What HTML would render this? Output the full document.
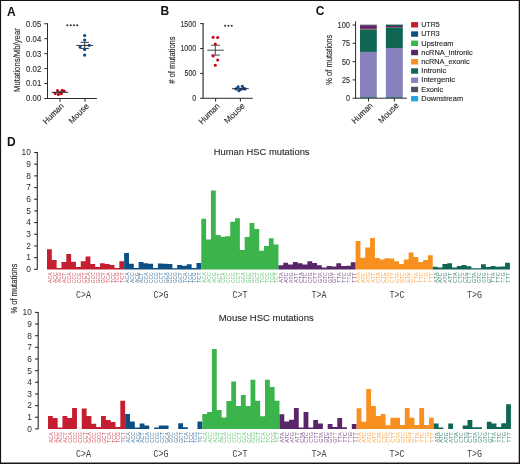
<!DOCTYPE html>
<html><head><meta charset="utf-8"><title>Figure</title><style>
html,body{margin:0;padding:0;background:#fff;}
svg{display:block;will-change:transform;}
text{font-family:"Liberation Sans",sans-serif;}
.pl{font-weight:bold;font-size:12px;fill:#111;}
.tk{font-size:8.8px;fill:#333;stroke:#333;stroke-width:0.15px;}
.tl{font-size:8.4px;fill:#2e2e2e;}
.xl{font-size:8.4px;fill:#2e2e2e;stroke:#2e2e2e;stroke-width:0.15px;}
.yl{font-size:9.8px;fill:#2e2e2e;stroke:#2e2e2e;stroke-width:0.15px;}
.st{font-size:9px;fill:#333;font-weight:bold;}
.lg{font-size:7.7px;fill:#2a2a2a;stroke:#2a2a2a;stroke-width:0.15px;}
.tt{font-size:9.9px;fill:#2a2a2a;stroke:#2a2a2a;stroke-width:0.12px;}
.gl{font-family:"Liberation Mono",monospace;font-size:10.6px;fill:#444;}
.ctx text{opacity:0.8;}
</style></head>
<body><svg width="520" height="464" viewBox="0 0 520 464">
<rect x="0" y="0" width="520" height="464" fill="#fff"/>
<text x="6.9" y="15.5" text-anchor="start" class="pl" >A</text>
<line x1="47.5" y1="23.2" x2="47.5" y2="99" stroke="#2b2b2b" stroke-width="1"/>
<line x1="44.3" y1="98.5" x2="47.5" y2="98.5" stroke="#2b2b2b" stroke-width="1"/>
<text x="41.2" y="101.4" text-anchor="end" class="tk" textLength="15.1" lengthAdjust="spacingAndGlyphs">0.00</text>
<line x1="44.3" y1="83.55" x2="47.5" y2="83.55" stroke="#2b2b2b" stroke-width="1"/>
<text x="41.2" y="86.45" text-anchor="end" class="tk" textLength="15.1" lengthAdjust="spacingAndGlyphs">0.01</text>
<line x1="44.3" y1="68.6" x2="47.5" y2="68.6" stroke="#2b2b2b" stroke-width="1"/>
<text x="41.2" y="71.5" text-anchor="end" class="tk" textLength="15.1" lengthAdjust="spacingAndGlyphs">0.02</text>
<line x1="44.3" y1="53.65" x2="47.5" y2="53.65" stroke="#2b2b2b" stroke-width="1"/>
<text x="41.2" y="56.55" text-anchor="end" class="tk" textLength="15.1" lengthAdjust="spacingAndGlyphs">0.03</text>
<line x1="44.3" y1="38.7" x2="47.5" y2="38.7" stroke="#2b2b2b" stroke-width="1"/>
<text x="41.2" y="41.6" text-anchor="end" class="tk" textLength="15.1" lengthAdjust="spacingAndGlyphs">0.04</text>
<line x1="44.3" y1="23.75" x2="47.5" y2="23.75" stroke="#2b2b2b" stroke-width="1"/>
<text x="41.2" y="26.65" text-anchor="end" class="tk" textLength="15.1" lengthAdjust="spacingAndGlyphs">0.05</text>
<line x1="47" y1="98.5" x2="96.9" y2="98.5" stroke="#2b2b2b" stroke-width="1"/>
<line x1="60" y1="98.5" x2="60" y2="101.8" stroke="#2b2b2b" stroke-width="1"/>
<line x1="85" y1="98.5" x2="85" y2="101.8" stroke="#2b2b2b" stroke-width="1"/>
<text x="64.4" y="106.6" text-anchor="end" class="xl" transform="rotate(-45 64.4 106.6)" textLength="25.8" lengthAdjust="spacingAndGlyphs">Human</text>
<text x="89.6" y="106.6" text-anchor="end" class="xl" transform="rotate(-45 89.6 106.6)" textLength="25" lengthAdjust="spacingAndGlyphs">Mouse</text>
<text x="20.3" y="60.1" text-anchor="middle" class="yl" transform="rotate(-90 20.3 60.1)" textLength="63.8" lengthAdjust="spacingAndGlyphs">Mutations/Mb/year</text>
<circle cx="67.3" cy="25.3" r="1.05" fill="#333"/>
<circle cx="70.7" cy="25.3" r="1.05" fill="#333"/>
<circle cx="73.9" cy="25.3" r="1.05" fill="#333"/>
<circle cx="77.2" cy="25.3" r="1.05" fill="#333"/>
<circle cx="57.5" cy="90.5" r="1.5" fill="#c60014"/>
<circle cx="55.2" cy="93.5" r="1.5" fill="#c60014"/>
<circle cx="58.4" cy="94.6" r="1.5" fill="#c60014"/>
<circle cx="61.4" cy="93.7" r="1.5" fill="#c60014"/>
<circle cx="62.3" cy="90.2" r="1.5" fill="#c60014"/>
<circle cx="64.2" cy="90.9" r="1.5" fill="#c60014"/>
<line x1="51.7" y1="92.3" x2="68.1" y2="92.3" stroke="#222" stroke-width="1"/>
<line x1="57.8" y1="91.6" x2="61.8" y2="91.6" stroke="#222" stroke-width="0.8"/>
<line x1="57.8" y1="93" x2="61.8" y2="93" stroke="#222" stroke-width="0.8"/>
<line x1="76.3" y1="45.4" x2="93.1" y2="45.4" stroke="#333" stroke-width="1"/>
<line x1="80.5" y1="42.3" x2="88.9" y2="42.3" stroke="#333" stroke-width="1"/>
<line x1="80.5" y1="48.4" x2="88.9" y2="48.4" stroke="#333" stroke-width="1"/>
<line x1="84.67" y1="42.3" x2="84.67" y2="48.4" stroke="#333" stroke-width="1"/>
<circle cx="84.67" cy="35.5" r="1.6" fill="#0a4a8a"/>
<circle cx="84.67" cy="40" r="1.6" fill="#0a4a8a"/>
<circle cx="89.2" cy="45.3" r="1.6" fill="#0a4a8a"/>
<circle cx="80.1" cy="47.1" r="1.6" fill="#0a4a8a"/>
<circle cx="84.67" cy="49.4" r="1.6" fill="#0a4a8a"/>
<circle cx="84.67" cy="55.1" r="1.6" fill="#0a4a8a"/>
<text x="160.4" y="15" text-anchor="start" class="pl" >B</text>
<line x1="203.1" y1="23.1" x2="203.1" y2="98.3" stroke="#5e5a5c" stroke-width="1.5"/>
<line x1="200.1" y1="98.3" x2="203.1" y2="98.3" stroke="#2b2b2b" stroke-width="1"/>
<text x="196.3" y="101.2" text-anchor="end" class="tk" textLength="4" lengthAdjust="spacingAndGlyphs">0</text>
<line x1="200.1" y1="73.4" x2="203.1" y2="73.4" stroke="#2b2b2b" stroke-width="1"/>
<text x="196.3" y="76.3" text-anchor="end" class="tk" textLength="11.8" lengthAdjust="spacingAndGlyphs">500</text>
<line x1="200.1" y1="48.5" x2="203.1" y2="48.5" stroke="#2b2b2b" stroke-width="1"/>
<text x="196.3" y="51.4" text-anchor="end" class="tk" textLength="15.9" lengthAdjust="spacingAndGlyphs">1000</text>
<line x1="200.1" y1="23.6" x2="203.1" y2="23.6" stroke="#2b2b2b" stroke-width="1"/>
<text x="196.3" y="26.5" text-anchor="end" class="tk" textLength="15.9" lengthAdjust="spacingAndGlyphs">1500</text>
<line x1="202.6" y1="98.3" x2="252.8" y2="98.3" stroke="#2b2b2b" stroke-width="1"/>
<line x1="215.6" y1="98.3" x2="215.6" y2="101.6" stroke="#2b2b2b" stroke-width="1"/>
<line x1="240.4" y1="98.3" x2="240.4" y2="101.6" stroke="#2b2b2b" stroke-width="1"/>
<text x="220.2" y="106.6" text-anchor="end" class="xl" transform="rotate(-45 220.2 106.6)" textLength="25.8" lengthAdjust="spacingAndGlyphs">Human</text>
<text x="245.3" y="106.4" text-anchor="end" class="xl" transform="rotate(-45 245.3 106.4)" textLength="25" lengthAdjust="spacingAndGlyphs">Mouse</text>
<text x="175" y="60.1" text-anchor="middle" class="yl" transform="rotate(-90 175 60.1)" textLength="47.4" lengthAdjust="spacingAndGlyphs"># of mutations</text>
<circle cx="225.1" cy="25.8" r="1.05" fill="#333"/>
<circle cx="228.4" cy="25.8" r="1.05" fill="#333"/>
<circle cx="231.7" cy="25.8" r="1.05" fill="#333"/>
<line x1="207.3" y1="50.2" x2="223.8" y2="50.2" stroke="#444" stroke-width="1"/>
<line x1="211.2" y1="45.2" x2="219.9" y2="45.2" stroke="#444" stroke-width="1"/>
<line x1="211.2" y1="55.1" x2="219.9" y2="55.1" stroke="#444" stroke-width="1"/>
<line x1="215.3" y1="45.2" x2="215.3" y2="55.1" stroke="#444" stroke-width="1"/>
<circle cx="213.1" cy="37.3" r="1.5" fill="#c60014"/>
<circle cx="217.7" cy="37.6" r="1.5" fill="#c60014"/>
<circle cx="215.3" cy="44.1" r="1.5" fill="#c60014"/>
<circle cx="213.1" cy="55.9" r="1.5" fill="#c60014"/>
<circle cx="217.7" cy="60.1" r="1.5" fill="#c60014"/>
<circle cx="215.3" cy="65.3" r="1.5" fill="#c60014"/>
<circle cx="236" cy="88.9" r="1.6" fill="#0a4a8a"/>
<circle cx="238.1" cy="86.9" r="1.6" fill="#0a4a8a"/>
<circle cx="238.9" cy="90.7" r="1.6" fill="#0a4a8a"/>
<circle cx="241" cy="89.3" r="1.6" fill="#0a4a8a"/>
<circle cx="242.4" cy="86.3" r="1.6" fill="#0a4a8a"/>
<circle cx="243.8" cy="88.7" r="1.6" fill="#0a4a8a"/>
<circle cx="245" cy="88.9" r="1.6" fill="#0a4a8a"/>
<line x1="232" y1="88.7" x2="248.8" y2="88.7" stroke="#222" stroke-width="0.9"/>
<text x="315.7" y="14.5" text-anchor="start" class="pl" >C</text>
<line x1="355.6" y1="21.3" x2="355.6" y2="98.7" stroke="#2b2b2b" stroke-width="1"/>
<line x1="352.6" y1="98.2" x2="355.6" y2="98.2" stroke="#2b2b2b" stroke-width="1"/>
<text x="350" y="101.1" text-anchor="end" class="tk" textLength="4" lengthAdjust="spacingAndGlyphs">0</text>
<line x1="352.6" y1="79.9" x2="355.6" y2="79.9" stroke="#2b2b2b" stroke-width="1"/>
<text x="350" y="82.8" text-anchor="end" class="tk" textLength="8" lengthAdjust="spacingAndGlyphs">25</text>
<line x1="352.6" y1="61.6" x2="355.6" y2="61.6" stroke="#2b2b2b" stroke-width="1"/>
<text x="350" y="64.5" text-anchor="end" class="tk" textLength="8" lengthAdjust="spacingAndGlyphs">50</text>
<line x1="352.6" y1="43.3" x2="355.6" y2="43.3" stroke="#2b2b2b" stroke-width="1"/>
<text x="350" y="46.2" text-anchor="end" class="tk" textLength="8" lengthAdjust="spacingAndGlyphs">75</text>
<line x1="352.6" y1="25" x2="355.6" y2="25" stroke="#2b2b2b" stroke-width="1"/>
<text x="350" y="27.9" text-anchor="end" class="tk" textLength="12.4" lengthAdjust="spacingAndGlyphs">100</text>
<line x1="355.1" y1="98.2" x2="406.8" y2="98.2" stroke="#2b2b2b" stroke-width="1"/>
<line x1="368.5" y1="98.2" x2="368.5" y2="101.5" stroke="#2b2b2b" stroke-width="1"/>
<line x1="394.4" y1="98.2" x2="394.4" y2="101.5" stroke="#2b2b2b" stroke-width="1"/>
<text x="373.2" y="106" text-anchor="end" class="xl" transform="rotate(-45 373.2 106)" textLength="25.8" lengthAdjust="spacingAndGlyphs">Human</text>
<text x="399.2" y="106" text-anchor="end" class="xl" transform="rotate(-45 399.2 106)" textLength="25" lengthAdjust="spacingAndGlyphs">Mouse</text>
<text x="331.9" y="59.7" text-anchor="middle" class="yl" transform="rotate(-90 331.9 59.7)" textLength="50" lengthAdjust="spacingAndGlyphs">% of mutations</text>
<rect x="360" y="24.7" width="16.8" height="1.1" fill="#3a4058"/>
<rect x="360" y="25.75" width="16.8" height="3.1" fill="#5e2270"/>
<rect x="360" y="28.8" width="16.8" height="0.95" fill="#8a5a3a"/>
<rect x="360" y="29.7" width="16.8" height="22.25" fill="#106654"/>
<rect x="360" y="51.9" width="16.8" height="45.05" fill="#8882bc"/>
<rect x="360" y="96.9" width="16.8" height="0.9" fill="#1d5f6f"/>
<rect x="385.9" y="24.6" width="16.9" height="1.35" fill="#0d5a47"/>
<rect x="385.9" y="25.9" width="16.9" height="1.25" fill="#5e2270"/>
<rect x="385.9" y="27.1" width="16.9" height="0.75" fill="#6a4a50"/>
<rect x="385.9" y="27.8" width="16.9" height="20.25" fill="#106654"/>
<rect x="385.9" y="48" width="16.9" height="48.95" fill="#8882bc"/>
<rect x="385.9" y="96.9" width="16.9" height="0.9" fill="#1d5f6f"/>
<rect x="411.1" y="22.1" width="7" height="5.4" fill="#c41e30"/>
<text x="421.3" y="27.2" text-anchor="start" class="lg" textLength="18.3" lengthAdjust="spacingAndGlyphs">UTR5</text>
<rect x="411.1" y="31.34" width="7" height="5.4" fill="#0c4f84"/>
<text x="421.3" y="36.41" text-anchor="start" class="lg" textLength="18.3" lengthAdjust="spacingAndGlyphs">UTR3</text>
<rect x="411.1" y="40.58" width="7" height="5.4" fill="#3bb44b"/>
<text x="421.3" y="45.62" text-anchor="start" class="lg" textLength="32.2" lengthAdjust="spacingAndGlyphs">Upstream</text>
<rect x="411.1" y="49.82" width="7" height="5.4" fill="#5a266a"/>
<text x="421.3" y="54.83" text-anchor="start" class="lg" textLength="51.4" lengthAdjust="spacingAndGlyphs">ncRNA_intronic</text>
<rect x="411.1" y="59.06" width="7" height="5.4" fill="#f7901e"/>
<text x="421.3" y="64.04" text-anchor="start" class="lg" textLength="48.3" lengthAdjust="spacingAndGlyphs">ncRNA_exonic</text>
<rect x="411.1" y="68.3" width="7" height="5.4" fill="#106654"/>
<text x="421.3" y="73.25" text-anchor="start" class="lg" textLength="24.9" lengthAdjust="spacingAndGlyphs">Intronic</text>
<rect x="411.1" y="77.54" width="7" height="5.4" fill="#8882bc"/>
<text x="421.3" y="82.46" text-anchor="start" class="lg" textLength="33.7" lengthAdjust="spacingAndGlyphs">Intergenic</text>
<rect x="411.1" y="86.78" width="7" height="5.4" fill="#465466"/>
<text x="421.3" y="91.67" text-anchor="start" class="lg" textLength="21.8" lengthAdjust="spacingAndGlyphs">Exonic</text>
<rect x="411.1" y="96.02" width="7" height="5.4" fill="#23a6df"/>
<text x="421.3" y="100.88" text-anchor="start" class="lg" textLength="41.8" lengthAdjust="spacingAndGlyphs">Downstream</text>
<text x="7" y="145.6" text-anchor="start" class="pl" >D</text>
<text x="17.5" y="288.6" text-anchor="middle" class="yl" transform="rotate(-90 17.5 288.6)" textLength="49.8" lengthAdjust="spacingAndGlyphs">% of mutations</text>
<line x1="37.3" y1="152" x2="37.3" y2="269.4" stroke="#2b2b2b" stroke-width="1.1"/>
<line x1="34.2" y1="269.3" x2="37.3" y2="269.3" stroke="#2b2b2b" stroke-width="1.1"/>
<text x="30.9" y="272.15" text-anchor="end" class="tl">0</text>
<line x1="34.2" y1="257.62" x2="37.3" y2="257.62" stroke="#2b2b2b" stroke-width="1.1"/>
<text x="30.9" y="260.47" text-anchor="end" class="tl">1</text>
<line x1="34.2" y1="245.94" x2="37.3" y2="245.94" stroke="#2b2b2b" stroke-width="1.1"/>
<text x="30.9" y="248.79" text-anchor="end" class="tl">2</text>
<line x1="34.2" y1="234.26" x2="37.3" y2="234.26" stroke="#2b2b2b" stroke-width="1.1"/>
<text x="30.9" y="237.11" text-anchor="end" class="tl">3</text>
<line x1="34.2" y1="222.58" x2="37.3" y2="222.58" stroke="#2b2b2b" stroke-width="1.1"/>
<text x="30.9" y="225.43" text-anchor="end" class="tl">4</text>
<line x1="34.2" y1="210.9" x2="37.3" y2="210.9" stroke="#2b2b2b" stroke-width="1.1"/>
<text x="30.9" y="213.75" text-anchor="end" class="tl">5</text>
<line x1="34.2" y1="199.22" x2="37.3" y2="199.22" stroke="#2b2b2b" stroke-width="1.1"/>
<text x="30.9" y="202.07" text-anchor="end" class="tl">6</text>
<line x1="34.2" y1="187.54" x2="37.3" y2="187.54" stroke="#2b2b2b" stroke-width="1.1"/>
<text x="30.9" y="190.39" text-anchor="end" class="tl">7</text>
<line x1="34.2" y1="175.86" x2="37.3" y2="175.86" stroke="#2b2b2b" stroke-width="1.1"/>
<text x="30.9" y="178.71" text-anchor="end" class="tl">8</text>
<line x1="34.2" y1="164.18" x2="37.3" y2="164.18" stroke="#2b2b2b" stroke-width="1.1"/>
<text x="30.9" y="167.03" text-anchor="end" class="tl">9</text>
<line x1="34.2" y1="152.5" x2="37.3" y2="152.5" stroke="#2b2b2b" stroke-width="1.1"/>
<text x="30.9" y="155.35" text-anchor="end" class="tl">10</text>
<path d="M47 269.4 L47 249.3 L51.82 249.3 L51.82 260 L56.64 260 L56.64 267.9 L61.47 267.9 L61.47 262 L66.29 262 L66.29 254.1 L71.11 254.1 L71.11 261.8 L75.93 261.8 L75.93 267.1 L80.75 267.1 L80.75 261.2 L85.58 261.2 L85.58 256.4 L90.4 256.4 L90.4 264 L95.22 264 L95.22 266.9 L100.04 266.9 L100.04 263.3 L104.86 263.3 L104.86 264.1 L109.69 264.1 L109.69 265 L114.51 265 L114.51 267.9 L119.33 267.9 L119.33 261.2 L124.15 261.2 L124.15 269.4 Z" fill="#c41e30"/>
<path d="M124.15 269.4 L124.15 253.1 L128.97 253.1 L128.97 263.7 L133.8 263.7 L133.8 268.1 L138.62 268.1 L138.62 262.05 L143.44 262.05 L143.44 263.3 L148.26 263.3 L148.26 263.8 L153.08 263.8 L153.08 267.9 L157.91 267.9 L157.91 263.6 L162.73 263.6 L162.73 263.7 L167.55 263.7 L167.55 263.9 L172.37 263.9 L172.37 268.3 L177.19 268.3 L177.19 265 L182.02 265 L182.02 265.7 L186.84 265.7 L186.84 264.2 L191.66 264.2 L191.66 267.9 L196.48 267.9 L196.48 263 L201.3 263 L201.3 269.4 Z" fill="#0c4f84"/>
<path d="M201.3 269.4 L201.3 218.85 L206.13 218.85 L206.13 239.5 L210.95 239.5 L210.95 190.4 L215.77 190.4 L215.77 235 L220.59 235 L220.59 236.7 L225.41 236.7 L225.41 236.3 L230.24 236.3 L230.24 221.8 L235.06 221.8 L235.06 218.3 L239.88 218.3 L239.88 249.9 L244.7 249.9 L244.7 237.1 L249.52 237.1 L249.52 222.9 L254.35 222.9 L254.35 228.9 L259.17 228.9 L259.17 250.8 L263.99 250.8 L263.99 246.1 L268.81 246.1 L268.81 238.3 L273.63 238.3 L273.63 244.4 L278.46 244.4 L278.46 269.4 Z" fill="#3bb44b"/>
<path d="M278.46 269.4 L278.46 265.2 L283.28 265.2 L283.28 262.7 L288.1 262.7 L288.1 264.4 L292.92 264.4 L292.92 262.1 L297.74 262.1 L297.74 263.2 L302.57 263.2 L302.57 264.4 L307.39 264.4 L307.39 261.3 L312.21 261.3 L312.21 263.1 L317.03 263.1 L317.03 265.2 L321.85 265.2 L321.85 267.5 L326.68 267.5 L326.68 266.1 L331.5 266.1 L331.5 266.5 L336.32 266.5 L336.32 263.3 L341.14 263.3 L341.14 265.9 L345.96 265.9 L345.96 265.7 L350.79 265.7 L350.79 262.3 L355.61 262.3 L355.61 269.4 Z" fill="#5a266a"/>
<path d="M355.61 269.4 L355.61 241.05 L360.43 241.05 L360.43 257.7 L365.25 257.7 L365.25 247.5 L370.07 247.5 L370.07 237.9 L374.9 237.9 L374.9 258 L379.72 258 L379.72 259.4 L384.54 259.4 L384.54 258.3 L389.36 258.3 L389.36 258.4 L394.18 258.4 L394.18 261.15 L399.01 261.15 L399.01 264.1 L403.83 264.1 L403.83 259.6 L408.65 259.6 L408.65 252.5 L413.47 252.5 L413.47 256.9 L418.29 256.9 L418.29 262 L423.12 262 L423.12 260 L427.94 260 L427.94 255.2 L432.76 255.2 L432.76 269.4 Z" fill="#f7901e"/>
<path d="M432.76 269.4 L432.76 266.8 L437.58 266.8 L437.58 267.5 L442.4 267.5 L442.4 264.1 L447.23 264.1 L447.23 263.3 L452.05 263.3 L452.05 267.6 L456.87 267.6 L456.87 265.9 L461.69 265.9 L461.69 265.1 L466.51 265.1 L466.51 266.2 L471.34 266.2 L471.34 268.2 L476.16 268.2 L476.16 268.2 L480.98 268.2 L480.98 264.3 L485.8 264.3 L485.8 267 L490.62 267 L490.62 265.9 L495.45 265.9 L495.45 266.7 L500.27 266.7 L500.27 266.4 L505.09 266.4 L505.09 262.8 L509.91 262.8 L509.91 269.4 Z" fill="#106654"/>
<g font-size="5.3" class="ctx"><text x="51.83" y="272.4" transform="rotate(-90 51.83 272.4)" text-anchor="end" textLength="10.6" lengthAdjust="spacingAndGlyphs" fill="#c41e30">ACA</text>
<text x="56.66" y="272.4" transform="rotate(-90 56.66 272.4)" text-anchor="end" textLength="10.6" lengthAdjust="spacingAndGlyphs" fill="#c41e30">ACC</text>
<text x="61.48" y="272.4" transform="rotate(-90 61.48 272.4)" text-anchor="end" textLength="10.6" lengthAdjust="spacingAndGlyphs" fill="#c41e30">ACG</text>
<text x="66.3" y="272.4" transform="rotate(-90 66.3 272.4)" text-anchor="end" textLength="10.6" lengthAdjust="spacingAndGlyphs" fill="#c41e30">ACT</text>
<text x="71.12" y="272.4" transform="rotate(-90 71.12 272.4)" text-anchor="end" textLength="10.6" lengthAdjust="spacingAndGlyphs" fill="#c41e30">CCA</text>
<text x="75.94" y="272.4" transform="rotate(-90 75.94 272.4)" text-anchor="end" textLength="10.6" lengthAdjust="spacingAndGlyphs" fill="#c41e30">CCC</text>
<text x="80.77" y="272.4" transform="rotate(-90 80.77 272.4)" text-anchor="end" textLength="10.6" lengthAdjust="spacingAndGlyphs" fill="#c41e30">CCG</text>
<text x="85.59" y="272.4" transform="rotate(-90 85.59 272.4)" text-anchor="end" textLength="10.6" lengthAdjust="spacingAndGlyphs" fill="#c41e30">CCT</text>
<text x="90.41" y="272.4" transform="rotate(-90 90.41 272.4)" text-anchor="end" textLength="10.6" lengthAdjust="spacingAndGlyphs" fill="#c41e30">GCA</text>
<text x="95.23" y="272.4" transform="rotate(-90 95.23 272.4)" text-anchor="end" textLength="10.6" lengthAdjust="spacingAndGlyphs" fill="#c41e30">GCC</text>
<text x="100.05" y="272.4" transform="rotate(-90 100.05 272.4)" text-anchor="end" textLength="10.6" lengthAdjust="spacingAndGlyphs" fill="#c41e30">GCG</text>
<text x="104.88" y="272.4" transform="rotate(-90 104.88 272.4)" text-anchor="end" textLength="10.6" lengthAdjust="spacingAndGlyphs" fill="#c41e30">GCT</text>
<text x="109.7" y="272.4" transform="rotate(-90 109.7 272.4)" text-anchor="end" textLength="10.6" lengthAdjust="spacingAndGlyphs" fill="#c41e30">TCA</text>
<text x="114.52" y="272.4" transform="rotate(-90 114.52 272.4)" text-anchor="end" textLength="10.6" lengthAdjust="spacingAndGlyphs" fill="#c41e30">TCC</text>
<text x="119.34" y="272.4" transform="rotate(-90 119.34 272.4)" text-anchor="end" textLength="10.6" lengthAdjust="spacingAndGlyphs" fill="#c41e30">TCG</text>
<text x="124.16" y="272.4" transform="rotate(-90 124.16 272.4)" text-anchor="end" textLength="10.6" lengthAdjust="spacingAndGlyphs" fill="#c41e30">TCT</text>
<text x="128.99" y="272.4" transform="rotate(-90 128.99 272.4)" text-anchor="end" textLength="10.6" lengthAdjust="spacingAndGlyphs" fill="#0c4f84">ACA</text>
<text x="133.81" y="272.4" transform="rotate(-90 133.81 272.4)" text-anchor="end" textLength="10.6" lengthAdjust="spacingAndGlyphs" fill="#0c4f84">ACC</text>
<text x="138.63" y="272.4" transform="rotate(-90 138.63 272.4)" text-anchor="end" textLength="10.6" lengthAdjust="spacingAndGlyphs" fill="#0c4f84">ACG</text>
<text x="143.45" y="272.4" transform="rotate(-90 143.45 272.4)" text-anchor="end" textLength="10.6" lengthAdjust="spacingAndGlyphs" fill="#0c4f84">ACT</text>
<text x="148.27" y="272.4" transform="rotate(-90 148.27 272.4)" text-anchor="end" textLength="10.6" lengthAdjust="spacingAndGlyphs" fill="#0c4f84">CCA</text>
<text x="153.1" y="272.4" transform="rotate(-90 153.1 272.4)" text-anchor="end" textLength="10.6" lengthAdjust="spacingAndGlyphs" fill="#0c4f84">CCC</text>
<text x="157.92" y="272.4" transform="rotate(-90 157.92 272.4)" text-anchor="end" textLength="10.6" lengthAdjust="spacingAndGlyphs" fill="#0c4f84">CCG</text>
<text x="162.74" y="272.4" transform="rotate(-90 162.74 272.4)" text-anchor="end" textLength="10.6" lengthAdjust="spacingAndGlyphs" fill="#0c4f84">CCT</text>
<text x="167.56" y="272.4" transform="rotate(-90 167.56 272.4)" text-anchor="end" textLength="10.6" lengthAdjust="spacingAndGlyphs" fill="#0c4f84">GCA</text>
<text x="172.38" y="272.4" transform="rotate(-90 172.38 272.4)" text-anchor="end" textLength="10.6" lengthAdjust="spacingAndGlyphs" fill="#0c4f84">GCC</text>
<text x="177.21" y="272.4" transform="rotate(-90 177.21 272.4)" text-anchor="end" textLength="10.6" lengthAdjust="spacingAndGlyphs" fill="#0c4f84">GCG</text>
<text x="182.03" y="272.4" transform="rotate(-90 182.03 272.4)" text-anchor="end" textLength="10.6" lengthAdjust="spacingAndGlyphs" fill="#0c4f84">GCT</text>
<text x="186.85" y="272.4" transform="rotate(-90 186.85 272.4)" text-anchor="end" textLength="10.6" lengthAdjust="spacingAndGlyphs" fill="#0c4f84">TCA</text>
<text x="191.67" y="272.4" transform="rotate(-90 191.67 272.4)" text-anchor="end" textLength="10.6" lengthAdjust="spacingAndGlyphs" fill="#0c4f84">TCC</text>
<text x="196.49" y="272.4" transform="rotate(-90 196.49 272.4)" text-anchor="end" textLength="10.6" lengthAdjust="spacingAndGlyphs" fill="#0c4f84">TCG</text>
<text x="201.32" y="272.4" transform="rotate(-90 201.32 272.4)" text-anchor="end" textLength="10.6" lengthAdjust="spacingAndGlyphs" fill="#0c4f84">TCT</text>
<text x="206.14" y="272.4" transform="rotate(-90 206.14 272.4)" text-anchor="end" textLength="10.6" lengthAdjust="spacingAndGlyphs" fill="#3bb44b">ACA</text>
<text x="210.96" y="272.4" transform="rotate(-90 210.96 272.4)" text-anchor="end" textLength="10.6" lengthAdjust="spacingAndGlyphs" fill="#3bb44b">ACC</text>
<text x="215.78" y="272.4" transform="rotate(-90 215.78 272.4)" text-anchor="end" textLength="10.6" lengthAdjust="spacingAndGlyphs" fill="#3bb44b">ACG</text>
<text x="220.6" y="272.4" transform="rotate(-90 220.6 272.4)" text-anchor="end" textLength="10.6" lengthAdjust="spacingAndGlyphs" fill="#3bb44b">ACT</text>
<text x="225.43" y="272.4" transform="rotate(-90 225.43 272.4)" text-anchor="end" textLength="10.6" lengthAdjust="spacingAndGlyphs" fill="#3bb44b">CCA</text>
<text x="230.25" y="272.4" transform="rotate(-90 230.25 272.4)" text-anchor="end" textLength="10.6" lengthAdjust="spacingAndGlyphs" fill="#3bb44b">CCC</text>
<text x="235.07" y="272.4" transform="rotate(-90 235.07 272.4)" text-anchor="end" textLength="10.6" lengthAdjust="spacingAndGlyphs" fill="#3bb44b">CCG</text>
<text x="239.89" y="272.4" transform="rotate(-90 239.89 272.4)" text-anchor="end" textLength="10.6" lengthAdjust="spacingAndGlyphs" fill="#3bb44b">CCT</text>
<text x="244.71" y="272.4" transform="rotate(-90 244.71 272.4)" text-anchor="end" textLength="10.6" lengthAdjust="spacingAndGlyphs" fill="#3bb44b">GCA</text>
<text x="249.54" y="272.4" transform="rotate(-90 249.54 272.4)" text-anchor="end" textLength="10.6" lengthAdjust="spacingAndGlyphs" fill="#3bb44b">GCC</text>
<text x="254.36" y="272.4" transform="rotate(-90 254.36 272.4)" text-anchor="end" textLength="10.6" lengthAdjust="spacingAndGlyphs" fill="#3bb44b">GCG</text>
<text x="259.18" y="272.4" transform="rotate(-90 259.18 272.4)" text-anchor="end" textLength="10.6" lengthAdjust="spacingAndGlyphs" fill="#3bb44b">GCT</text>
<text x="264" y="272.4" transform="rotate(-90 264 272.4)" text-anchor="end" textLength="10.6" lengthAdjust="spacingAndGlyphs" fill="#3bb44b">TCA</text>
<text x="268.82" y="272.4" transform="rotate(-90 268.82 272.4)" text-anchor="end" textLength="10.6" lengthAdjust="spacingAndGlyphs" fill="#3bb44b">TCC</text>
<text x="273.65" y="272.4" transform="rotate(-90 273.65 272.4)" text-anchor="end" textLength="10.6" lengthAdjust="spacingAndGlyphs" fill="#3bb44b">TCG</text>
<text x="278.47" y="272.4" transform="rotate(-90 278.47 272.4)" text-anchor="end" textLength="10.6" lengthAdjust="spacingAndGlyphs" fill="#3bb44b">TCT</text>
<text x="283.29" y="272.4" transform="rotate(-90 283.29 272.4)" text-anchor="end" textLength="10.6" lengthAdjust="spacingAndGlyphs" fill="#5a266a">ATA</text>
<text x="288.11" y="272.4" transform="rotate(-90 288.11 272.4)" text-anchor="end" textLength="10.6" lengthAdjust="spacingAndGlyphs" fill="#5a266a">ATC</text>
<text x="292.93" y="272.4" transform="rotate(-90 292.93 272.4)" text-anchor="end" textLength="10.6" lengthAdjust="spacingAndGlyphs" fill="#5a266a">ATG</text>
<text x="297.76" y="272.4" transform="rotate(-90 297.76 272.4)" text-anchor="end" textLength="10.6" lengthAdjust="spacingAndGlyphs" fill="#5a266a">ATT</text>
<text x="302.58" y="272.4" transform="rotate(-90 302.58 272.4)" text-anchor="end" textLength="10.6" lengthAdjust="spacingAndGlyphs" fill="#5a266a">CTA</text>
<text x="307.4" y="272.4" transform="rotate(-90 307.4 272.4)" text-anchor="end" textLength="10.6" lengthAdjust="spacingAndGlyphs" fill="#5a266a">CTC</text>
<text x="312.22" y="272.4" transform="rotate(-90 312.22 272.4)" text-anchor="end" textLength="10.6" lengthAdjust="spacingAndGlyphs" fill="#5a266a">CTG</text>
<text x="317.04" y="272.4" transform="rotate(-90 317.04 272.4)" text-anchor="end" textLength="10.6" lengthAdjust="spacingAndGlyphs" fill="#5a266a">CTT</text>
<text x="321.87" y="272.4" transform="rotate(-90 321.87 272.4)" text-anchor="end" textLength="10.6" lengthAdjust="spacingAndGlyphs" fill="#5a266a">GTA</text>
<text x="326.69" y="272.4" transform="rotate(-90 326.69 272.4)" text-anchor="end" textLength="10.6" lengthAdjust="spacingAndGlyphs" fill="#5a266a">GTC</text>
<text x="331.51" y="272.4" transform="rotate(-90 331.51 272.4)" text-anchor="end" textLength="10.6" lengthAdjust="spacingAndGlyphs" fill="#5a266a">GTG</text>
<text x="336.33" y="272.4" transform="rotate(-90 336.33 272.4)" text-anchor="end" textLength="10.6" lengthAdjust="spacingAndGlyphs" fill="#5a266a">GTT</text>
<text x="341.15" y="272.4" transform="rotate(-90 341.15 272.4)" text-anchor="end" textLength="10.6" lengthAdjust="spacingAndGlyphs" fill="#5a266a">TTA</text>
<text x="345.98" y="272.4" transform="rotate(-90 345.98 272.4)" text-anchor="end" textLength="10.6" lengthAdjust="spacingAndGlyphs" fill="#5a266a">TTC</text>
<text x="350.8" y="272.4" transform="rotate(-90 350.8 272.4)" text-anchor="end" textLength="10.6" lengthAdjust="spacingAndGlyphs" fill="#5a266a">TTG</text>
<text x="355.62" y="272.4" transform="rotate(-90 355.62 272.4)" text-anchor="end" textLength="10.6" lengthAdjust="spacingAndGlyphs" fill="#5a266a">TTT</text>
<text x="360.44" y="272.4" transform="rotate(-90 360.44 272.4)" text-anchor="end" textLength="10.6" lengthAdjust="spacingAndGlyphs" fill="#f7901e">ATA</text>
<text x="365.26" y="272.4" transform="rotate(-90 365.26 272.4)" text-anchor="end" textLength="10.6" lengthAdjust="spacingAndGlyphs" fill="#f7901e">ATC</text>
<text x="370.09" y="272.4" transform="rotate(-90 370.09 272.4)" text-anchor="end" textLength="10.6" lengthAdjust="spacingAndGlyphs" fill="#f7901e">ATG</text>
<text x="374.91" y="272.4" transform="rotate(-90 374.91 272.4)" text-anchor="end" textLength="10.6" lengthAdjust="spacingAndGlyphs" fill="#f7901e">ATT</text>
<text x="379.73" y="272.4" transform="rotate(-90 379.73 272.4)" text-anchor="end" textLength="10.6" lengthAdjust="spacingAndGlyphs" fill="#f7901e">CTA</text>
<text x="384.55" y="272.4" transform="rotate(-90 384.55 272.4)" text-anchor="end" textLength="10.6" lengthAdjust="spacingAndGlyphs" fill="#f7901e">CTC</text>
<text x="389.37" y="272.4" transform="rotate(-90 389.37 272.4)" text-anchor="end" textLength="10.6" lengthAdjust="spacingAndGlyphs" fill="#f7901e">CTG</text>
<text x="394.2" y="272.4" transform="rotate(-90 394.2 272.4)" text-anchor="end" textLength="10.6" lengthAdjust="spacingAndGlyphs" fill="#f7901e">CTT</text>
<text x="399.02" y="272.4" transform="rotate(-90 399.02 272.4)" text-anchor="end" textLength="10.6" lengthAdjust="spacingAndGlyphs" fill="#f7901e">GTA</text>
<text x="403.84" y="272.4" transform="rotate(-90 403.84 272.4)" text-anchor="end" textLength="10.6" lengthAdjust="spacingAndGlyphs" fill="#f7901e">GTC</text>
<text x="408.66" y="272.4" transform="rotate(-90 408.66 272.4)" text-anchor="end" textLength="10.6" lengthAdjust="spacingAndGlyphs" fill="#f7901e">GTG</text>
<text x="413.48" y="272.4" transform="rotate(-90 413.48 272.4)" text-anchor="end" textLength="10.6" lengthAdjust="spacingAndGlyphs" fill="#f7901e">GTT</text>
<text x="418.31" y="272.4" transform="rotate(-90 418.31 272.4)" text-anchor="end" textLength="10.6" lengthAdjust="spacingAndGlyphs" fill="#f7901e">TTA</text>
<text x="423.13" y="272.4" transform="rotate(-90 423.13 272.4)" text-anchor="end" textLength="10.6" lengthAdjust="spacingAndGlyphs" fill="#f7901e">TTC</text>
<text x="427.95" y="272.4" transform="rotate(-90 427.95 272.4)" text-anchor="end" textLength="10.6" lengthAdjust="spacingAndGlyphs" fill="#f7901e">TTG</text>
<text x="432.77" y="272.4" transform="rotate(-90 432.77 272.4)" text-anchor="end" textLength="10.6" lengthAdjust="spacingAndGlyphs" fill="#f7901e">TTT</text>
<text x="437.59" y="272.4" transform="rotate(-90 437.59 272.4)" text-anchor="end" textLength="10.6" lengthAdjust="spacingAndGlyphs" fill="#106654">ATA</text>
<text x="442.42" y="272.4" transform="rotate(-90 442.42 272.4)" text-anchor="end" textLength="10.6" lengthAdjust="spacingAndGlyphs" fill="#106654">ATC</text>
<text x="447.24" y="272.4" transform="rotate(-90 447.24 272.4)" text-anchor="end" textLength="10.6" lengthAdjust="spacingAndGlyphs" fill="#106654">ATG</text>
<text x="452.06" y="272.4" transform="rotate(-90 452.06 272.4)" text-anchor="end" textLength="10.6" lengthAdjust="spacingAndGlyphs" fill="#106654">ATT</text>
<text x="456.88" y="272.4" transform="rotate(-90 456.88 272.4)" text-anchor="end" textLength="10.6" lengthAdjust="spacingAndGlyphs" fill="#106654">CTA</text>
<text x="461.7" y="272.4" transform="rotate(-90 461.7 272.4)" text-anchor="end" textLength="10.6" lengthAdjust="spacingAndGlyphs" fill="#106654">CTC</text>
<text x="466.53" y="272.4" transform="rotate(-90 466.53 272.4)" text-anchor="end" textLength="10.6" lengthAdjust="spacingAndGlyphs" fill="#106654">CTG</text>
<text x="471.35" y="272.4" transform="rotate(-90 471.35 272.4)" text-anchor="end" textLength="10.6" lengthAdjust="spacingAndGlyphs" fill="#106654">CTT</text>
<text x="476.17" y="272.4" transform="rotate(-90 476.17 272.4)" text-anchor="end" textLength="10.6" lengthAdjust="spacingAndGlyphs" fill="#106654">GTA</text>
<text x="480.99" y="272.4" transform="rotate(-90 480.99 272.4)" text-anchor="end" textLength="10.6" lengthAdjust="spacingAndGlyphs" fill="#106654">GTC</text>
<text x="485.81" y="272.4" transform="rotate(-90 485.81 272.4)" text-anchor="end" textLength="10.6" lengthAdjust="spacingAndGlyphs" fill="#106654">GTG</text>
<text x="490.64" y="272.4" transform="rotate(-90 490.64 272.4)" text-anchor="end" textLength="10.6" lengthAdjust="spacingAndGlyphs" fill="#106654">GTT</text>
<text x="495.46" y="272.4" transform="rotate(-90 495.46 272.4)" text-anchor="end" textLength="10.6" lengthAdjust="spacingAndGlyphs" fill="#106654">TTA</text>
<text x="500.28" y="272.4" transform="rotate(-90 500.28 272.4)" text-anchor="end" textLength="10.6" lengthAdjust="spacingAndGlyphs" fill="#106654">TTC</text>
<text x="505.1" y="272.4" transform="rotate(-90 505.1 272.4)" text-anchor="end" textLength="10.6" lengthAdjust="spacingAndGlyphs" fill="#106654">TTG</text>
<text x="509.92" y="272.4" transform="rotate(-90 509.92 272.4)" text-anchor="end" textLength="10.6" lengthAdjust="spacingAndGlyphs" fill="#106654">TTT</text></g>
<text x="83.6" y="297.7" text-anchor="middle" textLength="15" lengthAdjust="spacingAndGlyphs" class="gl">C&gt;A</text>
<text x="160.9" y="297.7" text-anchor="middle" textLength="15" lengthAdjust="spacingAndGlyphs" class="gl">C&gt;G</text>
<text x="240" y="297.7" text-anchor="middle" textLength="15" lengthAdjust="spacingAndGlyphs" class="gl">C&gt;T</text>
<text x="319" y="297.7" text-anchor="middle" textLength="15" lengthAdjust="spacingAndGlyphs" class="gl">T&gt;A</text>
<text x="397" y="297.7" text-anchor="middle" textLength="15" lengthAdjust="spacingAndGlyphs" class="gl">T&gt;C</text>
<text x="474.6" y="297.7" text-anchor="middle" textLength="15" lengthAdjust="spacingAndGlyphs" class="gl">T&gt;G</text>
<text x="261.7" y="155" text-anchor="middle" class="tt" textLength="95.7" lengthAdjust="spacingAndGlyphs">Human HSC mutations</text>
<line x1="38.2" y1="311.9" x2="38.2" y2="428.9" stroke="#2b2b2b" stroke-width="1.1"/>
<line x1="35.1" y1="428.9" x2="38.2" y2="428.9" stroke="#2b2b2b" stroke-width="1.1"/>
<text x="31.8" y="431.75" text-anchor="end" class="tl">0</text>
<line x1="35.1" y1="417.25" x2="38.2" y2="417.25" stroke="#2b2b2b" stroke-width="1.1"/>
<text x="31.8" y="420.1" text-anchor="end" class="tl">1</text>
<line x1="35.1" y1="405.6" x2="38.2" y2="405.6" stroke="#2b2b2b" stroke-width="1.1"/>
<text x="31.8" y="408.45" text-anchor="end" class="tl">2</text>
<line x1="35.1" y1="393.95" x2="38.2" y2="393.95" stroke="#2b2b2b" stroke-width="1.1"/>
<text x="31.8" y="396.8" text-anchor="end" class="tl">3</text>
<line x1="35.1" y1="382.3" x2="38.2" y2="382.3" stroke="#2b2b2b" stroke-width="1.1"/>
<text x="31.8" y="385.15" text-anchor="end" class="tl">4</text>
<line x1="35.1" y1="370.65" x2="38.2" y2="370.65" stroke="#2b2b2b" stroke-width="1.1"/>
<text x="31.8" y="373.5" text-anchor="end" class="tl">5</text>
<line x1="35.1" y1="359" x2="38.2" y2="359" stroke="#2b2b2b" stroke-width="1.1"/>
<text x="31.8" y="361.85" text-anchor="end" class="tl">6</text>
<line x1="35.1" y1="347.35" x2="38.2" y2="347.35" stroke="#2b2b2b" stroke-width="1.1"/>
<text x="31.8" y="350.2" text-anchor="end" class="tl">7</text>
<line x1="35.1" y1="335.7" x2="38.2" y2="335.7" stroke="#2b2b2b" stroke-width="1.1"/>
<text x="31.8" y="338.55" text-anchor="end" class="tl">8</text>
<line x1="35.1" y1="324.05" x2="38.2" y2="324.05" stroke="#2b2b2b" stroke-width="1.1"/>
<text x="31.8" y="326.9" text-anchor="end" class="tl">9</text>
<line x1="35.1" y1="312.4" x2="38.2" y2="312.4" stroke="#2b2b2b" stroke-width="1.1"/>
<text x="31.8" y="315.25" text-anchor="end" class="tl">10</text>
<path d="M48 428.9 L48 416 L52.82 416 L52.82 417.9 L57.64 417.9 L57.64 427.5 L62.47 427.5 L62.47 416 L67.29 416 L67.29 417.9 L72.11 417.9 L72.11 408.1 L76.93 408.1 L76.93 428.9 L81.75 428.9 L81.75 408.4 L86.58 408.4 L86.58 416 L91.4 416 L91.4 423.8 L96.22 423.8 L96.22 427.1 L101.04 427.1 L101.04 416 L105.86 416 L105.86 420 L110.69 420 L110.69 421.9 L115.51 421.9 L115.51 427.1 L120.33 427.1 L120.33 400.75 L125.15 400.75 L125.15 428.9 Z" fill="#c41e30"/>
<path d="M125.15 428.9 L125.15 414.1 L129.97 414.1 L129.97 421.6 L134.8 421.6 L134.8 427.5 L139.62 427.5 L139.62 423.4 L144.44 423.4 L144.44 425.4 L149.26 425.4 L149.26 428.9 L154.08 428.9 L154.08 427.5 L158.91 427.5 L158.91 425.4 L163.73 425.4 L163.73 425.4 L168.55 425.4 L168.55 428.9 L173.37 428.9 L173.37 428.9 L178.19 428.9 L178.19 423.3 L183.02 423.3 L183.02 427.2 L187.84 427.2 L187.84 428.9 L192.66 428.9 L192.66 428.9 L197.48 428.9 L197.48 421.6 L202.3 421.6 L202.3 428.9 Z" fill="#0c4f84"/>
<path d="M202.3 428.9 L202.3 414 L207.13 414 L207.13 412 L211.95 412 L211.95 348.9 L216.77 348.9 L216.77 410.1 L221.59 410.1 L221.59 417.6 L226.41 417.6 L226.41 400.9 L231.24 400.9 L231.24 381.6 L236.06 381.6 L236.06 406.1 L240.88 406.1 L240.88 395.1 L245.7 395.1 L245.7 405.9 L250.52 405.9 L250.52 379.7 L255.35 379.7 L255.35 400.7 L260.17 400.7 L260.17 416.2 L264.99 416.2 L264.99 379.7 L269.81 379.7 L269.81 387 L274.63 387 L274.63 400.7 L279.46 400.7 L279.46 428.9 Z" fill="#3bb44b"/>
<path d="M279.46 428.9 L279.46 414.3 L284.28 414.3 L284.28 421.6 L289.1 421.6 L289.1 419.8 L293.92 419.8 L293.92 408.1 L298.74 408.1 L298.74 427.5 L303.57 427.5 L303.57 412.1 L308.39 412.1 L308.39 427.5 L313.21 427.5 L313.21 420 L318.03 420 L318.03 423.4 L322.85 423.4 L322.85 428.9 L327.68 428.9 L327.68 423.9 L332.5 423.9 L332.5 427.1 L337.32 427.1 L337.32 418 L342.14 418 L342.14 427.2 L346.96 427.2 L346.96 428.9 L351.79 428.9 L351.79 423.9 L356.61 423.9 L356.61 428.9 Z" fill="#5a266a"/>
<path d="M356.61 428.9 L356.61 408.2 L361.43 408.2 L361.43 421.7 L366.25 421.7 L366.25 389 L371.07 389 L371.07 406.1 L375.9 406.1 L375.9 416 L380.72 416 L380.72 414.1 L385.54 414.1 L385.54 425.3 L390.36 425.3 L390.36 417.8 L395.18 417.8 L395.18 417.8 L400.01 417.8 L400.01 425 L404.83 425 L404.83 408.1 L409.65 408.1 L409.65 417.8 L414.47 417.8 L414.47 425 L419.29 425 L419.29 408.1 L424.12 408.1 L424.12 425 L428.94 425 L428.94 417.8 L433.76 417.8 L433.76 428.9 Z" fill="#f7901e"/>
<path d="M433.76 428.9 L433.76 423.4 L438.58 423.4 L438.58 427.6 L443.4 427.6 L443.4 428.9 L448.23 428.9 L448.23 423.4 L453.05 423.4 L453.05 428.9 L457.87 428.9 L457.87 428.9 L462.69 428.9 L462.69 425.4 L467.51 425.4 L467.51 419.9 L472.34 419.9 L472.34 427.2 L477.16 427.2 L477.16 427.2 L481.98 427.2 L481.98 428.9 L486.8 428.9 L486.8 421.8 L491.62 421.8 L491.62 423.5 L496.45 423.5 L496.45 426.9 L501.27 426.9 L501.27 423.3 L506.09 423.3 L506.09 404.2 L510.91 404.2 L510.91 428.9 Z" fill="#106654"/>
<g font-size="5.3" class="ctx"><text x="52.83" y="432.2" transform="rotate(-90 52.83 432.2)" text-anchor="end" textLength="10.6" lengthAdjust="spacingAndGlyphs" fill="#c41e30">ACA</text>
<text x="57.66" y="432.2" transform="rotate(-90 57.66 432.2)" text-anchor="end" textLength="10.6" lengthAdjust="spacingAndGlyphs" fill="#c41e30">ACC</text>
<text x="62.48" y="432.2" transform="rotate(-90 62.48 432.2)" text-anchor="end" textLength="10.6" lengthAdjust="spacingAndGlyphs" fill="#c41e30">ACG</text>
<text x="67.3" y="432.2" transform="rotate(-90 67.3 432.2)" text-anchor="end" textLength="10.6" lengthAdjust="spacingAndGlyphs" fill="#c41e30">ACT</text>
<text x="72.12" y="432.2" transform="rotate(-90 72.12 432.2)" text-anchor="end" textLength="10.6" lengthAdjust="spacingAndGlyphs" fill="#c41e30">CCA</text>
<text x="76.94" y="432.2" transform="rotate(-90 76.94 432.2)" text-anchor="end" textLength="10.6" lengthAdjust="spacingAndGlyphs" fill="#c41e30">CCC</text>
<text x="81.77" y="432.2" transform="rotate(-90 81.77 432.2)" text-anchor="end" textLength="10.6" lengthAdjust="spacingAndGlyphs" fill="#c41e30">CCG</text>
<text x="86.59" y="432.2" transform="rotate(-90 86.59 432.2)" text-anchor="end" textLength="10.6" lengthAdjust="spacingAndGlyphs" fill="#c41e30">CCT</text>
<text x="91.41" y="432.2" transform="rotate(-90 91.41 432.2)" text-anchor="end" textLength="10.6" lengthAdjust="spacingAndGlyphs" fill="#c41e30">GCA</text>
<text x="96.23" y="432.2" transform="rotate(-90 96.23 432.2)" text-anchor="end" textLength="10.6" lengthAdjust="spacingAndGlyphs" fill="#c41e30">GCC</text>
<text x="101.05" y="432.2" transform="rotate(-90 101.05 432.2)" text-anchor="end" textLength="10.6" lengthAdjust="spacingAndGlyphs" fill="#c41e30">GCG</text>
<text x="105.88" y="432.2" transform="rotate(-90 105.88 432.2)" text-anchor="end" textLength="10.6" lengthAdjust="spacingAndGlyphs" fill="#c41e30">GCT</text>
<text x="110.7" y="432.2" transform="rotate(-90 110.7 432.2)" text-anchor="end" textLength="10.6" lengthAdjust="spacingAndGlyphs" fill="#c41e30">TCA</text>
<text x="115.52" y="432.2" transform="rotate(-90 115.52 432.2)" text-anchor="end" textLength="10.6" lengthAdjust="spacingAndGlyphs" fill="#c41e30">TCC</text>
<text x="120.34" y="432.2" transform="rotate(-90 120.34 432.2)" text-anchor="end" textLength="10.6" lengthAdjust="spacingAndGlyphs" fill="#c41e30">TCG</text>
<text x="125.16" y="432.2" transform="rotate(-90 125.16 432.2)" text-anchor="end" textLength="10.6" lengthAdjust="spacingAndGlyphs" fill="#c41e30">TCT</text>
<text x="129.99" y="432.2" transform="rotate(-90 129.99 432.2)" text-anchor="end" textLength="10.6" lengthAdjust="spacingAndGlyphs" fill="#0c4f84">ACA</text>
<text x="134.81" y="432.2" transform="rotate(-90 134.81 432.2)" text-anchor="end" textLength="10.6" lengthAdjust="spacingAndGlyphs" fill="#0c4f84">ACC</text>
<text x="139.63" y="432.2" transform="rotate(-90 139.63 432.2)" text-anchor="end" textLength="10.6" lengthAdjust="spacingAndGlyphs" fill="#0c4f84">ACG</text>
<text x="144.45" y="432.2" transform="rotate(-90 144.45 432.2)" text-anchor="end" textLength="10.6" lengthAdjust="spacingAndGlyphs" fill="#0c4f84">ACT</text>
<text x="149.27" y="432.2" transform="rotate(-90 149.27 432.2)" text-anchor="end" textLength="10.6" lengthAdjust="spacingAndGlyphs" fill="#0c4f84">CCA</text>
<text x="154.1" y="432.2" transform="rotate(-90 154.1 432.2)" text-anchor="end" textLength="10.6" lengthAdjust="spacingAndGlyphs" fill="#0c4f84">CCC</text>
<text x="158.92" y="432.2" transform="rotate(-90 158.92 432.2)" text-anchor="end" textLength="10.6" lengthAdjust="spacingAndGlyphs" fill="#0c4f84">CCG</text>
<text x="163.74" y="432.2" transform="rotate(-90 163.74 432.2)" text-anchor="end" textLength="10.6" lengthAdjust="spacingAndGlyphs" fill="#0c4f84">CCT</text>
<text x="168.56" y="432.2" transform="rotate(-90 168.56 432.2)" text-anchor="end" textLength="10.6" lengthAdjust="spacingAndGlyphs" fill="#0c4f84">GCA</text>
<text x="173.38" y="432.2" transform="rotate(-90 173.38 432.2)" text-anchor="end" textLength="10.6" lengthAdjust="spacingAndGlyphs" fill="#0c4f84">GCC</text>
<text x="178.21" y="432.2" transform="rotate(-90 178.21 432.2)" text-anchor="end" textLength="10.6" lengthAdjust="spacingAndGlyphs" fill="#0c4f84">GCG</text>
<text x="183.03" y="432.2" transform="rotate(-90 183.03 432.2)" text-anchor="end" textLength="10.6" lengthAdjust="spacingAndGlyphs" fill="#0c4f84">GCT</text>
<text x="187.85" y="432.2" transform="rotate(-90 187.85 432.2)" text-anchor="end" textLength="10.6" lengthAdjust="spacingAndGlyphs" fill="#0c4f84">TCA</text>
<text x="192.67" y="432.2" transform="rotate(-90 192.67 432.2)" text-anchor="end" textLength="10.6" lengthAdjust="spacingAndGlyphs" fill="#0c4f84">TCC</text>
<text x="197.49" y="432.2" transform="rotate(-90 197.49 432.2)" text-anchor="end" textLength="10.6" lengthAdjust="spacingAndGlyphs" fill="#0c4f84">TCG</text>
<text x="202.32" y="432.2" transform="rotate(-90 202.32 432.2)" text-anchor="end" textLength="10.6" lengthAdjust="spacingAndGlyphs" fill="#0c4f84">TCT</text>
<text x="207.14" y="432.2" transform="rotate(-90 207.14 432.2)" text-anchor="end" textLength="10.6" lengthAdjust="spacingAndGlyphs" fill="#3bb44b">ACA</text>
<text x="211.96" y="432.2" transform="rotate(-90 211.96 432.2)" text-anchor="end" textLength="10.6" lengthAdjust="spacingAndGlyphs" fill="#3bb44b">ACC</text>
<text x="216.78" y="432.2" transform="rotate(-90 216.78 432.2)" text-anchor="end" textLength="10.6" lengthAdjust="spacingAndGlyphs" fill="#3bb44b">ACG</text>
<text x="221.6" y="432.2" transform="rotate(-90 221.6 432.2)" text-anchor="end" textLength="10.6" lengthAdjust="spacingAndGlyphs" fill="#3bb44b">ACT</text>
<text x="226.43" y="432.2" transform="rotate(-90 226.43 432.2)" text-anchor="end" textLength="10.6" lengthAdjust="spacingAndGlyphs" fill="#3bb44b">CCA</text>
<text x="231.25" y="432.2" transform="rotate(-90 231.25 432.2)" text-anchor="end" textLength="10.6" lengthAdjust="spacingAndGlyphs" fill="#3bb44b">CCC</text>
<text x="236.07" y="432.2" transform="rotate(-90 236.07 432.2)" text-anchor="end" textLength="10.6" lengthAdjust="spacingAndGlyphs" fill="#3bb44b">CCG</text>
<text x="240.89" y="432.2" transform="rotate(-90 240.89 432.2)" text-anchor="end" textLength="10.6" lengthAdjust="spacingAndGlyphs" fill="#3bb44b">CCT</text>
<text x="245.71" y="432.2" transform="rotate(-90 245.71 432.2)" text-anchor="end" textLength="10.6" lengthAdjust="spacingAndGlyphs" fill="#3bb44b">GCA</text>
<text x="250.54" y="432.2" transform="rotate(-90 250.54 432.2)" text-anchor="end" textLength="10.6" lengthAdjust="spacingAndGlyphs" fill="#3bb44b">GCC</text>
<text x="255.36" y="432.2" transform="rotate(-90 255.36 432.2)" text-anchor="end" textLength="10.6" lengthAdjust="spacingAndGlyphs" fill="#3bb44b">GCG</text>
<text x="260.18" y="432.2" transform="rotate(-90 260.18 432.2)" text-anchor="end" textLength="10.6" lengthAdjust="spacingAndGlyphs" fill="#3bb44b">GCT</text>
<text x="265" y="432.2" transform="rotate(-90 265 432.2)" text-anchor="end" textLength="10.6" lengthAdjust="spacingAndGlyphs" fill="#3bb44b">TCA</text>
<text x="269.82" y="432.2" transform="rotate(-90 269.82 432.2)" text-anchor="end" textLength="10.6" lengthAdjust="spacingAndGlyphs" fill="#3bb44b">TCC</text>
<text x="274.65" y="432.2" transform="rotate(-90 274.65 432.2)" text-anchor="end" textLength="10.6" lengthAdjust="spacingAndGlyphs" fill="#3bb44b">TCG</text>
<text x="279.47" y="432.2" transform="rotate(-90 279.47 432.2)" text-anchor="end" textLength="10.6" lengthAdjust="spacingAndGlyphs" fill="#3bb44b">TCT</text>
<text x="284.29" y="432.2" transform="rotate(-90 284.29 432.2)" text-anchor="end" textLength="10.6" lengthAdjust="spacingAndGlyphs" fill="#5a266a">ATA</text>
<text x="289.11" y="432.2" transform="rotate(-90 289.11 432.2)" text-anchor="end" textLength="10.6" lengthAdjust="spacingAndGlyphs" fill="#5a266a">ATC</text>
<text x="293.93" y="432.2" transform="rotate(-90 293.93 432.2)" text-anchor="end" textLength="10.6" lengthAdjust="spacingAndGlyphs" fill="#5a266a">ATG</text>
<text x="298.76" y="432.2" transform="rotate(-90 298.76 432.2)" text-anchor="end" textLength="10.6" lengthAdjust="spacingAndGlyphs" fill="#5a266a">ATT</text>
<text x="303.58" y="432.2" transform="rotate(-90 303.58 432.2)" text-anchor="end" textLength="10.6" lengthAdjust="spacingAndGlyphs" fill="#5a266a">CTA</text>
<text x="308.4" y="432.2" transform="rotate(-90 308.4 432.2)" text-anchor="end" textLength="10.6" lengthAdjust="spacingAndGlyphs" fill="#5a266a">CTC</text>
<text x="313.22" y="432.2" transform="rotate(-90 313.22 432.2)" text-anchor="end" textLength="10.6" lengthAdjust="spacingAndGlyphs" fill="#5a266a">CTG</text>
<text x="318.04" y="432.2" transform="rotate(-90 318.04 432.2)" text-anchor="end" textLength="10.6" lengthAdjust="spacingAndGlyphs" fill="#5a266a">CTT</text>
<text x="322.87" y="432.2" transform="rotate(-90 322.87 432.2)" text-anchor="end" textLength="10.6" lengthAdjust="spacingAndGlyphs" fill="#5a266a">GTA</text>
<text x="327.69" y="432.2" transform="rotate(-90 327.69 432.2)" text-anchor="end" textLength="10.6" lengthAdjust="spacingAndGlyphs" fill="#5a266a">GTC</text>
<text x="332.51" y="432.2" transform="rotate(-90 332.51 432.2)" text-anchor="end" textLength="10.6" lengthAdjust="spacingAndGlyphs" fill="#5a266a">GTG</text>
<text x="337.33" y="432.2" transform="rotate(-90 337.33 432.2)" text-anchor="end" textLength="10.6" lengthAdjust="spacingAndGlyphs" fill="#5a266a">GTT</text>
<text x="342.15" y="432.2" transform="rotate(-90 342.15 432.2)" text-anchor="end" textLength="10.6" lengthAdjust="spacingAndGlyphs" fill="#5a266a">TTA</text>
<text x="346.98" y="432.2" transform="rotate(-90 346.98 432.2)" text-anchor="end" textLength="10.6" lengthAdjust="spacingAndGlyphs" fill="#5a266a">TTC</text>
<text x="351.8" y="432.2" transform="rotate(-90 351.8 432.2)" text-anchor="end" textLength="10.6" lengthAdjust="spacingAndGlyphs" fill="#5a266a">TTG</text>
<text x="356.62" y="432.2" transform="rotate(-90 356.62 432.2)" text-anchor="end" textLength="10.6" lengthAdjust="spacingAndGlyphs" fill="#5a266a">TTT</text>
<text x="361.44" y="432.2" transform="rotate(-90 361.44 432.2)" text-anchor="end" textLength="10.6" lengthAdjust="spacingAndGlyphs" fill="#f7901e">ATA</text>
<text x="366.26" y="432.2" transform="rotate(-90 366.26 432.2)" text-anchor="end" textLength="10.6" lengthAdjust="spacingAndGlyphs" fill="#f7901e">ATC</text>
<text x="371.09" y="432.2" transform="rotate(-90 371.09 432.2)" text-anchor="end" textLength="10.6" lengthAdjust="spacingAndGlyphs" fill="#f7901e">ATG</text>
<text x="375.91" y="432.2" transform="rotate(-90 375.91 432.2)" text-anchor="end" textLength="10.6" lengthAdjust="spacingAndGlyphs" fill="#f7901e">ATT</text>
<text x="380.73" y="432.2" transform="rotate(-90 380.73 432.2)" text-anchor="end" textLength="10.6" lengthAdjust="spacingAndGlyphs" fill="#f7901e">CTA</text>
<text x="385.55" y="432.2" transform="rotate(-90 385.55 432.2)" text-anchor="end" textLength="10.6" lengthAdjust="spacingAndGlyphs" fill="#f7901e">CTC</text>
<text x="390.37" y="432.2" transform="rotate(-90 390.37 432.2)" text-anchor="end" textLength="10.6" lengthAdjust="spacingAndGlyphs" fill="#f7901e">CTG</text>
<text x="395.2" y="432.2" transform="rotate(-90 395.2 432.2)" text-anchor="end" textLength="10.6" lengthAdjust="spacingAndGlyphs" fill="#f7901e">CTT</text>
<text x="400.02" y="432.2" transform="rotate(-90 400.02 432.2)" text-anchor="end" textLength="10.6" lengthAdjust="spacingAndGlyphs" fill="#f7901e">GTA</text>
<text x="404.84" y="432.2" transform="rotate(-90 404.84 432.2)" text-anchor="end" textLength="10.6" lengthAdjust="spacingAndGlyphs" fill="#f7901e">GTC</text>
<text x="409.66" y="432.2" transform="rotate(-90 409.66 432.2)" text-anchor="end" textLength="10.6" lengthAdjust="spacingAndGlyphs" fill="#f7901e">GTG</text>
<text x="414.48" y="432.2" transform="rotate(-90 414.48 432.2)" text-anchor="end" textLength="10.6" lengthAdjust="spacingAndGlyphs" fill="#f7901e">GTT</text>
<text x="419.31" y="432.2" transform="rotate(-90 419.31 432.2)" text-anchor="end" textLength="10.6" lengthAdjust="spacingAndGlyphs" fill="#f7901e">TTA</text>
<text x="424.13" y="432.2" transform="rotate(-90 424.13 432.2)" text-anchor="end" textLength="10.6" lengthAdjust="spacingAndGlyphs" fill="#f7901e">TTC</text>
<text x="428.95" y="432.2" transform="rotate(-90 428.95 432.2)" text-anchor="end" textLength="10.6" lengthAdjust="spacingAndGlyphs" fill="#f7901e">TTG</text>
<text x="433.77" y="432.2" transform="rotate(-90 433.77 432.2)" text-anchor="end" textLength="10.6" lengthAdjust="spacingAndGlyphs" fill="#f7901e">TTT</text>
<text x="438.59" y="432.2" transform="rotate(-90 438.59 432.2)" text-anchor="end" textLength="10.6" lengthAdjust="spacingAndGlyphs" fill="#106654">ATA</text>
<text x="443.42" y="432.2" transform="rotate(-90 443.42 432.2)" text-anchor="end" textLength="10.6" lengthAdjust="spacingAndGlyphs" fill="#106654">ATC</text>
<text x="448.24" y="432.2" transform="rotate(-90 448.24 432.2)" text-anchor="end" textLength="10.6" lengthAdjust="spacingAndGlyphs" fill="#106654">ATG</text>
<text x="453.06" y="432.2" transform="rotate(-90 453.06 432.2)" text-anchor="end" textLength="10.6" lengthAdjust="spacingAndGlyphs" fill="#106654">ATT</text>
<text x="457.88" y="432.2" transform="rotate(-90 457.88 432.2)" text-anchor="end" textLength="10.6" lengthAdjust="spacingAndGlyphs" fill="#106654">CTA</text>
<text x="462.7" y="432.2" transform="rotate(-90 462.7 432.2)" text-anchor="end" textLength="10.6" lengthAdjust="spacingAndGlyphs" fill="#106654">CTC</text>
<text x="467.53" y="432.2" transform="rotate(-90 467.53 432.2)" text-anchor="end" textLength="10.6" lengthAdjust="spacingAndGlyphs" fill="#106654">CTG</text>
<text x="472.35" y="432.2" transform="rotate(-90 472.35 432.2)" text-anchor="end" textLength="10.6" lengthAdjust="spacingAndGlyphs" fill="#106654">CTT</text>
<text x="477.17" y="432.2" transform="rotate(-90 477.17 432.2)" text-anchor="end" textLength="10.6" lengthAdjust="spacingAndGlyphs" fill="#106654">GTA</text>
<text x="481.99" y="432.2" transform="rotate(-90 481.99 432.2)" text-anchor="end" textLength="10.6" lengthAdjust="spacingAndGlyphs" fill="#106654">GTC</text>
<text x="486.81" y="432.2" transform="rotate(-90 486.81 432.2)" text-anchor="end" textLength="10.6" lengthAdjust="spacingAndGlyphs" fill="#106654">GTG</text>
<text x="491.64" y="432.2" transform="rotate(-90 491.64 432.2)" text-anchor="end" textLength="10.6" lengthAdjust="spacingAndGlyphs" fill="#106654">GTT</text>
<text x="496.46" y="432.2" transform="rotate(-90 496.46 432.2)" text-anchor="end" textLength="10.6" lengthAdjust="spacingAndGlyphs" fill="#106654">TTA</text>
<text x="501.28" y="432.2" transform="rotate(-90 501.28 432.2)" text-anchor="end" textLength="10.6" lengthAdjust="spacingAndGlyphs" fill="#106654">TTC</text>
<text x="506.1" y="432.2" transform="rotate(-90 506.1 432.2)" text-anchor="end" textLength="10.6" lengthAdjust="spacingAndGlyphs" fill="#106654">TTG</text>
<text x="510.92" y="432.2" transform="rotate(-90 510.92 432.2)" text-anchor="end" textLength="10.6" lengthAdjust="spacingAndGlyphs" fill="#106654">TTT</text></g>
<text x="83.6" y="457" text-anchor="middle" textLength="15" lengthAdjust="spacingAndGlyphs" class="gl">C&gt;A</text>
<text x="160.9" y="457" text-anchor="middle" textLength="15" lengthAdjust="spacingAndGlyphs" class="gl">C&gt;G</text>
<text x="240" y="457" text-anchor="middle" textLength="15" lengthAdjust="spacingAndGlyphs" class="gl">C&gt;T</text>
<text x="319" y="457" text-anchor="middle" textLength="15" lengthAdjust="spacingAndGlyphs" class="gl">T&gt;A</text>
<text x="397" y="457" text-anchor="middle" textLength="15" lengthAdjust="spacingAndGlyphs" class="gl">T&gt;C</text>
<text x="474.6" y="457" text-anchor="middle" textLength="15" lengthAdjust="spacingAndGlyphs" class="gl">T&gt;G</text>
<text x="266.2" y="320.8" text-anchor="middle" class="tt" textLength="95.0" lengthAdjust="spacingAndGlyphs">Mouse HSC mutations</text>
<rect x="0" y="0" width="520" height="1" fill="#1a1616"/><rect x="0" y="0" width="1.1" height="464" fill="#1a1616"/><rect x="518.7" y="0" width="1.3" height="464" fill="#1a1616"/><rect x="0" y="462.5" width="520" height="1.5" fill="#1a1616"/>
</svg></body></html>
